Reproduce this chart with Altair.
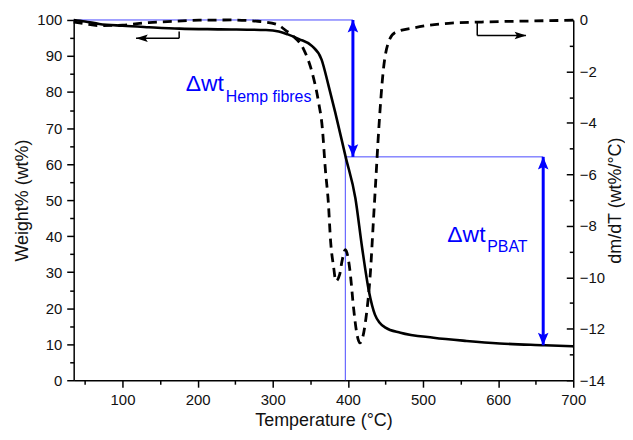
import altair as alt
import pandas as pd

# ---- data ----
tga_temp = [35, 50, 69, 100, 135, 176, 230, 291, 308, 320, 335, 352, 365, 374, 383,
            397, 410, 419, 428, 436, 442, 450, 470, 514, 558, 602, 662, 700]
tga_weight = [100, 99.6, 98.9, 98.4, 98.0, 97.6, 97.4, 97.2, 96.8, 96.0, 94.7, 92.8, 89.0,
              82.0, 74.5, 62.0, 50.5, 36.7, 24.7, 18.2, 16.0, 14.6, 13.2, 11.8, 10.9,
              10.2, 9.7, 9.4]

dtg_temp = [35, 50, 69, 100, 135, 170, 202, 246, 280, 305, 317, 326, 341, 352, 361, 366,
            370, 374, 377, 381, 384, 389, 392, 396.6, 400, 403, 407.6, 412, 416, 420, 424,
            430, 434, 437, 441, 447, 454, 463, 489, 534, 578, 644, 700]
dtg_rate = [-0.08, -0.15, -0.22, -0.2, -0.1, -0.05, -0.01, 0.0, -0.05, -0.17, -0.4, -0.6,
            -1.13, -2.0, -3.2, -4.2, -5.8, -7.1, -8.6, -9.6, -10.15, -9.9, -9.4, -8.93,
            -9.2, -9.8, -11.2, -12.2, -12.55, -12.3, -11.6, -9.8, -7.8, -6.3, -4.3, -2.0,
            -0.87, -0.49, -0.3, -0.13, -0.08, -0.04, -0.01]

x_major = [100, 200, 300, 400, 500, 600, 700]
x_minor = [50, 150, 250, 350, 450, 550, 650]
w_major = [0, 10, 20, 30, 40, 50, 60, 70, 80, 90, 100]
w_minor = [5, 15, 25, 35, 45, 55, 65, 75, 85, 95]
d_major = [0, -2, -4, -6, -8, -10, -12, -14]
d_minor = [-1, -3, -5, -7, -9, -11, -13]

# annotation values (weight %, temperature)
w_start = 100
w_split = 62
w_residue = 9.7
t_split = 396.6
t_arrow1 = 406.7
t_arrow2 = 660

FONT = "Liberation Sans"
BLUE = "#0000ff"
THIN_BLUE = "#4a4aff"

xs = alt.Scale(domain=[35, 700], nice=False, zero=False)
ws = alt.Scale(domain=[0, 100], nice=False)
ds = alt.Scale(domain=[-14, 0], nice=False)

tga_df = pd.DataFrame({"T": tga_temp, "W": tga_weight})
dtg_df = pd.DataFrame({"T": dtg_temp, "D": dtg_rate})

common_axis = dict(grid=False, domainColor="black", domainWidth=1.5, tickColor="black",
                   tickWidth=1.5, labelFont=FONT, labelFontSize=15, labelColor="#111",
                   titleFont=FONT, titleFontSize=18, titleFontWeight="normal",
                   titleColor="#111")

x_major_axis = alt.Axis(values=x_major, tickSize=7, labelPadding=5, titlePadding=5,
                        orient="bottom", labelFlush=False, **common_axis)
x_minor_axis = alt.Axis(values=x_minor, tickSize=4, labels=False, domain=False,
                        orient="bottom", **common_axis)
w_major_axis = alt.Axis(values=w_major, tickSize=7, labelPadding=5, titlePadding=5,
                        orient="left", labelFlush=False, **common_axis)
w_minor_axis = alt.Axis(values=w_minor, tickSize=4, labels=False, domain=False,
                        orient="left", **common_axis)
d_main_axis = alt.Axis(values=d_major, ticks=False, labelPadding=6, titlePadding=2,
                       orient="right", titleAngle=270, titleBaseline="top",
                       labelFlush=False, **common_axis)
d_tick_axis = alt.Axis(values=d_major, tickSize=7, labels=False, domain=False,
                       orient="right", offset=-7, **common_axis)
d_minor_axis = alt.Axis(values=d_minor, tickSize=4, labels=False, domain=False,
                        orient="right", offset=-4, **common_axis)

# thin blue guide lines
guide_df = pd.DataFrame({
    "x": [35, t_split, t_split],
    "x2": [t_arrow1, t_arrow2, t_split],
    "y": [w_start, w_split, w_split],
    "y2": [w_start, w_split, 0],
})
guides = alt.Chart(guide_df).mark_rule(color=THIN_BLUE, strokeWidth=1).encode(
    x=alt.X("x:Q", scale=xs, axis=None), x2="x2:Q",
    y=alt.Y("y:Q", scale=ws, axis=None), y2="y2:Q")

tga = alt.Chart(tga_df).mark_line(color="black", strokeWidth=2.6, interpolate="monotone").encode(
    x=alt.X("T:Q", scale=xs, axis=x_major_axis, title="Temperature (°C)"),
    y=alt.Y("W:Q", scale=ws, axis=w_major_axis, title="Weight% (wt%)"))

tga_minor = alt.Chart(tga_df).mark_line(opacity=0).encode(
    x=alt.X("T:Q", scale=xs, axis=x_minor_axis, title=None),
    y=alt.Y("W:Q", scale=ws, axis=w_minor_axis, title=None))

dtg = alt.Chart(dtg_df).mark_line(color="black", strokeWidth=2.8, strokeDash=[9, 6],
                                  interpolate="monotone").encode(
    x=alt.X("T:Q", scale=xs, axis=None),
    y=alt.Y("D:Q", scale=ds, axis=d_main_axis, title="dm/dT (wt%/°C)"))

dtg_ticks = alt.Chart(dtg_df).mark_line(opacity=0).encode(
    x=alt.X("T:Q", scale=xs, axis=None),
    y=alt.Y("D:Q", scale=ds, axis=d_tick_axis, title=None))

dtg_minor = alt.Chart(dtg_df).mark_line(opacity=0).encode(
    x=alt.X("T:Q", scale=xs, axis=None),
    y=alt.Y("D:Q", scale=ds, axis=d_minor_axis, title=None))

# blue double arrows
shaft_df = pd.DataFrame({"x": [t_arrow1, t_arrow2], "y": [w_start, w_split],
                         "y2": [w_split, w_residue]})
shafts = alt.Chart(shaft_df).mark_rule(color=BLUE, strokeWidth=3).encode(
    x=alt.X("x:Q", scale=xs, axis=None),
    y=alt.Y("y:Q", scale=ws, axis=None), y2="y2:Q")

UP = "M0,0L-0.42,1L0,0.8L0.42,1Z"
DOWN = "M0,0L-0.42,-1L0,-0.8L0.42,-1Z"
LEFT = "M0,0L1,-0.32L0.8,0L1,0.32Z"
RIGHT = "M0,0L-1,-0.32L-0.8,0L-1,0.32Z"

head_df = pd.DataFrame({"x": [t_arrow1, t_arrow1, t_arrow2, t_arrow2],
                        "y": [w_start, w_split, w_split, w_residue],
                        "s": [UP, DOWN, UP, DOWN]})
heads = alt.Chart(head_df).mark_point(filled=True, color=BLUE, opacity=1, size=640,
                                      strokeWidth=0).encode(
    x=alt.X("x:Q", scale=xs, axis=None),
    y=alt.Y("y:Q", scale=ws, axis=None),
    shape=alt.Shape("s:N", scale=None))

# small black arrows pointing to the axes
left_arrow_df = pd.DataFrame({"x": [175.4, 175.4], "x2": [175.4, 118],
                              "y": [96.8, 94.9], "y2": [94.9, 94.9]})
left_arrow = alt.Chart(left_arrow_df).mark_rule(color="black", strokeWidth=1.5).encode(
    x=alt.X("x:Q", scale=xs, axis=None), x2="x2:Q",
    y=alt.Y("y:Q", scale=ws, axis=None), y2="y2:Q")
left_head = alt.Chart(pd.DataFrame({"x": [118], "y": [94.9], "s": [LEFT]})).mark_point(
    filled=True, color="black", opacity=1, size=560, strokeWidth=0).encode(
    x=alt.X("x:Q", scale=xs, axis=None),
    y=alt.Y("y:Q", scale=ws, axis=None),
    shape=alt.Shape("s:N", scale=None))

right_arrow_df = pd.DataFrame({"x": [572.2, 572.2], "x2": [572.2, 637],
                               "y": [-0.1, -0.6], "y2": [-0.6, -0.6]})
right_arrow = alt.Chart(right_arrow_df).mark_rule(color="black", strokeWidth=1.5).encode(
    x=alt.X("x:Q", scale=xs, axis=None), x2="x2:Q",
    y=alt.Y("y:Q", scale=ds, axis=None), y2="y2:Q")
right_head = alt.Chart(pd.DataFrame({"x": [637.6], "y": [-0.6], "s": [RIGHT]})).mark_point(
    filled=True, color="black", opacity=1, size=560, strokeWidth=0).encode(
    x=alt.X("x:Q", scale=xs, axis=None),
    y=alt.Y("y:Q", scale=ds, axis=None),
    shape=alt.Shape("s:N", scale=None))

# labels
big_df = pd.DataFrame({"x": [184.2, 532.4], "y": [80.4, 38.3], "t": ["Δwt", "Δwt"]})
sub_df = pd.DataFrame({"x": [237.3, 585.4], "y": [77.2, 35.7], "t": ["Hemp fibres", "PBAT"]})
big_text = alt.Chart(big_df).mark_text(align="left", baseline="alphabetic", font=FONT,
                                       fontSize=23, color=BLUE).encode(
    x=alt.X("x:Q", scale=xs, axis=None), y=alt.Y("y:Q", scale=ws, axis=None), text="t:N")
sub_text = alt.Chart(sub_df).mark_text(align="left", baseline="alphabetic", font=FONT,
                                       fontSize=16, color=BLUE).encode(
    x=alt.X("x:Q", scale=xs, axis=None), y=alt.Y("y:Q", scale=ws, axis=None), text="t:N")

chart = alt.layer(
    guides, tga, tga_minor, dtg, dtg_ticks, dtg_minor, shafts, heads,
    left_arrow, left_head, right_arrow, right_head, big_text, sub_text
).resolve_scale(y="independent", x="shared").resolve_axis(
    y="independent", x="independent"
).properties(
    width=502, height=362, background="white",
    padding={"left": 5, "top": 4, "right": 0, "bottom": 0}
).configure_view(stroke=None)

chart.save("out.html", embed_options={"renderer": "svg", "actions": False})
